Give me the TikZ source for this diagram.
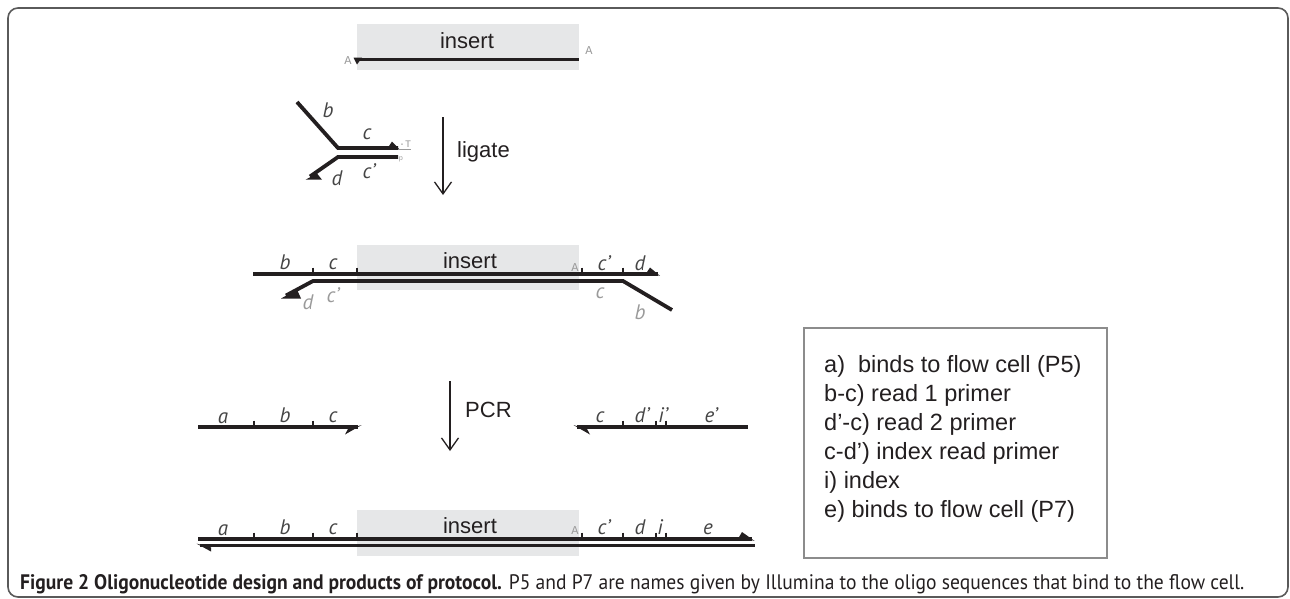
\documentclass[tikz,border=0pt]{standalone}
\usepackage{fontspec}
\setmainfont{Liberation Sans}
\newfontfamily\labfont{PT Sans}
\newfontfamily\capfont{PT Sans}
\newfontfamily\smallmono{Liberation Mono}
\usetikzlibrary{arrows.meta}
\definecolor{strandc}{HTML}{231F20}
\definecolor{labc}{HTML}{454545}
\definecolor{lablight}{HTML}{9A9A9A}
\definecolor{insertc}{HTML}{E6E7E8}
\definecolor{framec}{HTML}{5A5A5A}
\definecolor{boxc}{HTML}{8C8C8C}
\begin{document}
\begin{tikzpicture}[x=1pt,y=-1pt,
 strand/.style={line width=3.8pt,draw=strandc,line cap=butt,line join=miter},
 barb/.style={fill=strandc},
 tickmark/.style={line width=1.3pt,draw=strandc},
 lab/.style={font=\labfont\itshape\fontsize{21}{21}\selectfont,text=labc,inner sep=0pt,anchor=base},
 labl/.style={lab,text=lablight},
 smallA/.style={font=\smallmono\fontsize{12}{12}\selectfont,text=lablight,inner sep=0pt,anchor=base},
 insbox/.style={fill=insertc,draw=none},
 instext/.style={font=\fontsize{22}{22}\selectfont,text=strandc,inner sep=0pt,anchor=base},
 steparrow/.style={line width=1.3pt,draw=strandc,-{Straight Barb[length=12pt,width=17pt]}},
 legtext/.style={font=\fontsize{23.5}{23.5}\selectfont,text=strandc,inner sep=0pt,anchor=base west},
]
\useasboundingbox (0,0) rectangle (1290,598);
% frame
\draw[framec,line width=1.6pt,rounded corners=10pt] (8,8) rectangle (1288,597);

% ---- top: insert
\fill[insbox] (357,24) rectangle (579,70);
\node[instext] (ins1) at (467,48) {insert};
\draw[strand] (357,59.5) -- (579,59.5);
\fill[barb] (353.5,57.6) -- (362,57.6) -- (357,64.5) -- cycle;
\node[smallA] (A1) at (348,64) {A};
\node[smallA] (A2) at (589,54) {A};

% ---- adapter
\draw[strand] (297,102) -- (338,148) -- (398,148);
\fill[barb] (400,149.9) -- (392,141.5) -- (389,146.1) -- cycle;
\draw[lablight,line width=0.8pt] (399,149.5) -- (411,149.5);
\node[smallA,font=\smallmono\fontsize{10}{10}\selectfont] (T1) at (405,147) {·T};
\draw[strand] (398,157) -- (338,157) -- (310,176.5);
\fill[barb] (305.5,179.7) -- (322,179.7) -- (317,173.5) -- cycle;
\node[smallA,font=\smallmono\fontsize{7}{7}\selectfont] (P1) at (401,160) {p};
\node[lab] (ab) at (328,117) {b};
\node[lab] (ac) at (367,139) {c};
\node[lab] (ad) at (337,185) {d};
\node[lab] (acp) at (369,178) {c’};

% ligate arrow
\coordinate (lig1) at (443,117);
\coordinate (lig2) at (443,195);
\draw[steparrow] (lig1) -- (lig2);
\node[instext,anchor=base west] (ligate) at (457,157) {ligate};

% ---- ligated product
\fill[insbox] (357,245) rectangle (579,290);
\node[instext] (ins2) at (470,268) {insert};
\draw[strand] (253,274) -- (658,274);
\fill[barb] (660,275.9) -- (650,267.5) -- (647,272.1) -- cycle;
\draw[strand] (286,295.5) -- (313,281) -- (623,281) -- (672,310);
\fill[barb] (281,298.5) -- (301,298.5) -- (297,289.5) -- cycle;
\foreach \x in {313,357,582,623} \draw[tickmark] (\x,267.5) -- (\x,273);
\node[lab] (mb) at (285,269) {b};
\node[lab] (mc) at (333,269) {c};
\node[smallA] (mA) at (575,271) {A};
\node[lab] (mcp) at (604,270) {c’};
\node[lab] (md) at (640,270) {d};
\node[labl] (md2) at (308,309) {d};
\node[labl] (mcp2) at (333,302) {c’};
\node[labl] (mc2) at (600,298) {c};
\node[labl] (mb2) at (640,319) {b};

% ---- PCR primers
\draw[strand] (198,427) -- (358,427);
\fill[barb] (361.5,425.1) -- (345,434.5) -- (348,428.9) -- cycle;
\foreach \x in {254,313} \draw[tickmark] (\x,420.5) -- (\x,426);
\node[lab] (pa) at (223,423) {a};
\node[lab] (pb) at (285,422) {b};
\node[lab] (pc) at (333,422) {c};
\draw[strand] (577,427) -- (748,427);
\fill[barb] (573.5,425.1) -- (590,434.5) -- (587,428.9) -- cycle;
\foreach \x in {623,656,666} \draw[tickmark] (\x,420.5) -- (\x,426);
\node[lab] (qc) at (600,422) {c};
\node[lab] (qd) at (642,422) {d’};
\node[lab] (qi) at (663,422) {i’};
\node[lab] (qe) at (711,422) {e’};

% PCR arrow
\coordinate (pcr1) at (450,381);
\coordinate (pcr2) at (450,451);
\draw[steparrow] (pcr1) -- (pcr2);
\node[instext,anchor=base west] (pcr) at (465,417) {PCR};

% ---- final product
\fill[insbox] (357,510) rectangle (579,556);
\node[instext] (ins3) at (470,533) {insert};
\draw[strand] (198,539) -- (752,539);
\fill[barb] (754.5,540.9) -- (742,532) -- (739,537.1) -- cycle;
\draw[strand] (200,545.5) -- (755,545.5);
\fill[barb] (196.5,543.6) -- (211,551.5) -- (211,547.4) -- cycle;
\foreach \x in {254,313,357,582,623,656,666} \draw[tickmark] (\x,532.5) -- (\x,538);
\node[lab] (fa) at (223,535) {a};
\node[lab] (fb) at (285,534) {b};
\node[lab] (fc) at (333,534) {c};
\node[smallA] (fA) at (575,534) {A};
\node[lab] (fcp) at (604,534) {c’};
\node[lab] (fd) at (640,534) {d};
\node[lab] (fi) at (660,534) {i};
\node[lab] (fe) at (708,534) {e};

% ---- legend
\node[draw=boxc,line width=1.8pt,minimum width=303pt,minimum height=230pt,inner sep=0pt,anchor=north west] (legend) at (803,327) {};
\node[legtext] (l1) at (824,372) {a)\ \ binds to flow cell (P5)};
\node[legtext] (l2) at (824,401) {b-c) read 1 primer};
\node[legtext] (l3) at (824,430) {d’-c) read 2 primer};
\node[legtext] (l4) at (824,459) {c-d’) index read primer};
\node[legtext] (l5) at (824,488) {i) index};
\node[legtext] (l6) at (824,517) {e) binds to flow cell (P7)};

% ---- caption
\node[anchor=base west,inner sep=0pt,text=strandc] (cap) at (20,589) {\resizebox{1224pt}{15pt}{\capfont\fontsize{20}{20}\selectfont\textbf{Figure 2 Oligonucleotide design and products of protocol.} P5 and P7 are names given by Illumina to the oligo sequences that bind to the flow cell.}};
\end{tikzpicture}
\end{document}
